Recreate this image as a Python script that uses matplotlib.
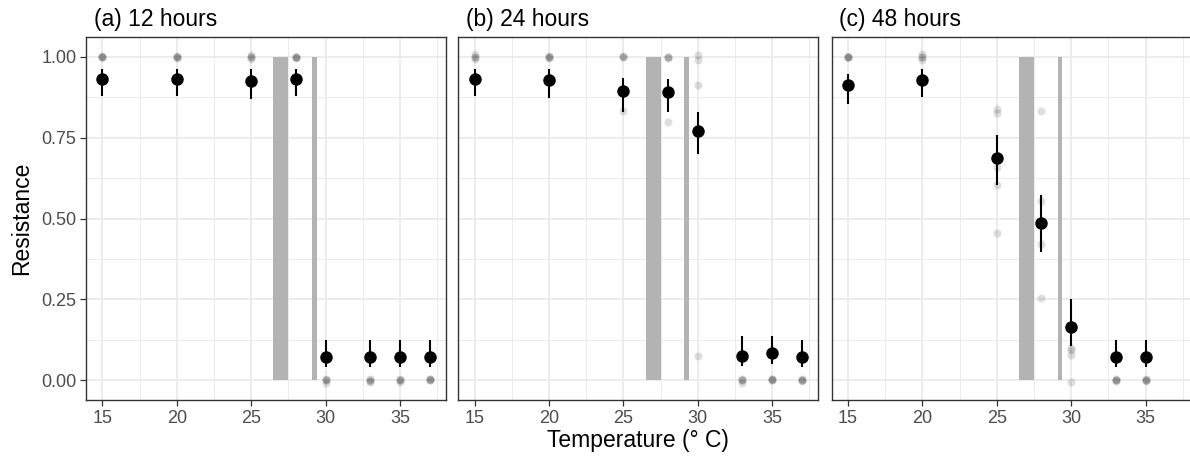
import matplotlib
matplotlib.use("Agg")
import matplotlib.pyplot as plt
from matplotlib.ticker import MultipleLocator, FixedLocator

plt.rcParams['font.family'] = ['Liberation Sans', 'DejaVu Sans']

# ---------------- data ----------------
panel_titles = ["(a) 12 hours", "(b) 24 hours", "(c) 48 hours"]

# model estimates (mean, lower, upper)
temps_a = [15, 20, 25, 28, 30, 33, 35, 37]
mean_a = [0.930, 0.930, 0.925, 0.930, 0.071, 0.071, 0.071, 0.071]
low_a = [0.878, 0.878, 0.868, 0.878, 0.041, 0.041, 0.041, 0.041]
high_a = [0.961, 0.961, 0.961, 0.961, 0.123, 0.123, 0.123, 0.123]

temps_b = [15, 20, 25, 28, 30, 33, 35, 37]
mean_b = [0.930, 0.928, 0.894, 0.892, 0.771, 0.076, 0.083, 0.071]
low_b = [0.878, 0.873, 0.829, 0.829, 0.698, 0.043, 0.051, 0.041]
high_b = [0.961, 0.961, 0.935, 0.932, 0.830, 0.136, 0.136, 0.123]

temps_c = [15, 20, 25, 28, 30, 33, 35]
mean_c = [0.912, 0.928, 0.688, 0.485, 0.166, 0.071, 0.071]
low_c = [0.853, 0.876, 0.605, 0.396, 0.105, 0.041, 0.041]
high_c = [0.948, 0.961, 0.759, 0.574, 0.252, 0.123, 0.123]

# raw replicate observations (jittered as plotted)
raw_a = {
    15: [1.000, 1.000, 1.003, 0.998],
    20: [1.000, 1.002, 0.995, 1.000],
    25: [1.005, 1.000, 0.993, 1.000],
    28: [1.000, 0.998, 0.995, 1.000],
    30: [0.000, 0.005, -0.007, 0.000],
    33: [0.000, -0.005, -0.003, 0.003],
    35: [0.005, 0.000, -0.005, 0.000],
    37: [0.005, 0.000, 0.003, 0.000],
}
raw_b = {
    15: [1.008, 1.000, 0.992, 1.000],
    20: [1.000, 1.003, 0.997, 1.000],
    25: [1.000, 1.003, 1.000, 0.832],
    28: [0.998, 0.995, 1.000, 0.798],
    30: [1.005, 0.990, 0.914, 0.074],
    33: [0.000, 0.005, -0.008, 0.000],
    35: [0.005, 0.000, 0.000, 0.003],
    37: [0.000, 0.003, 0.000, -0.003],
}
raw_c = {
    15: [1.000, 1.000, 1.000, 1.000],
    20: [1.008, 1.000, 0.990, 1.000],
    25: [0.838, 0.827, 0.659, 0.603, 0.456],
    28: [0.832, 0.553, 0.422, 0.253],
    30: [0.100, 0.095, 0.078, -0.005],
    33: [0.000, -0.003, 0.000, 0.003],
    35: [0.005, 0.000, -0.003, 0.000],
}

# shaded temperature bands (xmin, xmax, ymin, ymax)
band_xmin = [26.5, 29.1]
band_xmax = [27.5, 29.4]
band_ymin = [0.0, 0.0]
band_ymax = [1.0, 1.0]

x_ticks = [15, 20, 25, 30, 35]
y_ticks = [0.00, 0.25, 0.50, 0.75, 1.00]
y_tick_labels = ["0.00", "0.25", "0.50", "0.75", "1.00"]

panels = [
    (temps_a, mean_a, low_a, high_a, raw_a),
    (temps_b, mean_b, low_b, high_b, raw_b),
    (temps_c, mean_c, low_c, high_c, raw_c),
]

# ---------------- figure ----------------
W, H = 1190, 459
fig = plt.figure(figsize=(W / 100, H / 100), dpi=100)

lefts = [86, 458.3, 831.7]
pw, ph = 360, 363
pbottom = H - 400

for i, (temps, mean, low, high, raw) in enumerate(panels):
    ax = fig.add_axes([lefts[i] / W, pbottom / H, pw / W, ph / H])
    ax.set_xlim(13.9, 38.1)
    ax.set_ylim(-0.061, 1.061)

    # grid
    ax.xaxis.set_major_locator(FixedLocator(x_ticks))
    ax.xaxis.set_minor_locator(FixedLocator([17.5, 22.5, 27.5, 32.5, 37.5]))
    ax.yaxis.set_major_locator(FixedLocator(y_ticks))
    ax.yaxis.set_minor_locator(FixedLocator([0.125, 0.375, 0.625, 0.875]))
    ax.grid(which='major', color='#EBEBEB', linewidth=1.3, zorder=0)
    ax.grid(which='minor', color='#EBEBEB', linewidth=0.7, zorder=0)
    ax.set_axisbelow(True)

    # bands
    for x0, x1, y0, y1 in zip(band_xmin, band_xmax, band_ymin, band_ymax):
        ax.fill_between([x0, x1], [y0, y0], [y1, y1], color='#B3B3B3',
                        linewidth=0, zorder=1)

    # raw points
    for t, vals in raw.items():
        ax.plot([t] * len(vals), vals, 'o', color='black', alpha=0.13,
                markersize=5.8, markeredgewidth=0, zorder=2)

    # error bars and means
    ax.vlines(temps, low, high, color='black', linewidth=1.5, zorder=3)
    ax.plot(temps, mean, 'o', color='black', markersize=9, markeredgewidth=0,
            zorder=4)

    for s in ax.spines.values():
        s.set_color('#333333')
        s.set_linewidth(1.0)

    ax.tick_params(which='major', length=4, width=0.9, color='#333333',
                   labelsize=13, labelcolor='#4D4D4D', pad=3)
    ax.tick_params(which='minor', length=0)
    if i == 0:
        ax.set_yticklabels(y_tick_labels)
    else:
        ax.tick_params(axis='y', which='major', length=0, labelleft=False)

    ax.text(7.5 / pw, 1 + 10.6 / ph, panel_titles[i], transform=ax.transAxes,
            ha='left', va='baseline', fontsize=16.5, color='black')

fig.text(638 / W, (H - 441) / H, "Temperature (° C)", ha='center',
         va='center', fontsize=16.5)
fig.text(22 / W, (H - 218) / H, "Resistance", ha='center', va='center',
         rotation=90, fontsize=16.5)

fig.savefig("out.png", dpi=100)
